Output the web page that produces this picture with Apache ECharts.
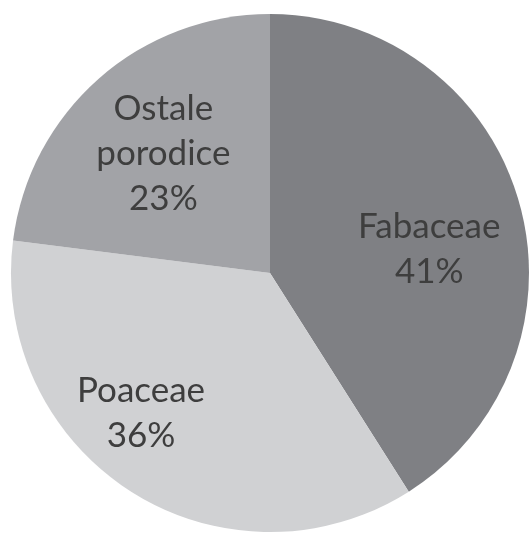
<!DOCTYPE html>
<html>
<head>
<meta charset="utf-8">
<script src="https://cdn.jsdelivr.net/npm/echarts@6/dist/echarts.min.js"></script>
<style>
  html, body { margin: 0; padding: 0; background: #ffffff; }
  #chart { width: 529px; height: 534px; }
</style>
</head>
<body>
<div id="chart"></div>
<script>
// Family shares (%), clockwise from 12 o'clock
const categories = ['Fabaceae', 'Poaceae', 'Ostale porodice'];
const shares = [41, 36, 23];

const sliceColors = ['#7f8084', '#d0d1d3', '#a2a3a7'];
// Label nudges from the default inside position
const labelShift = [[32, 13], [-58, 28], [-19, -20]];

const chart = echarts.init(document.getElementById('chart'));
chart.setOption({
  backgroundColor: '#ffffff',
  animation: false,
  series: [{
    type: 'pie',
    center: [270, 273],
    radius: 259,
    startAngle: 90,
    clockwise: true,
    silent: true,
    data: categories.map((name, i) => ({
      name: name,
      value: shares[i],
      itemStyle: { color: sliceColors[i] }
    })),
    itemStyle: { borderWidth: 0 },
    label: {
      show: true,
      position: 'inside',
      formatter: p => p.name.replace(' ', '\n') + '\n' + p.value + '%',
      color: '#3e3e3e',
      fontFamily: 'Lato',
      fontSize: 35,
      lineHeight: 45,
      align: 'center'
    },
    labelLine: { show: false },
    labelLayout: p => ({ dx: labelShift[p.dataIndex][0], dy: labelShift[p.dataIndex][1] })
  }]
});
</script>
</body>
</html>
